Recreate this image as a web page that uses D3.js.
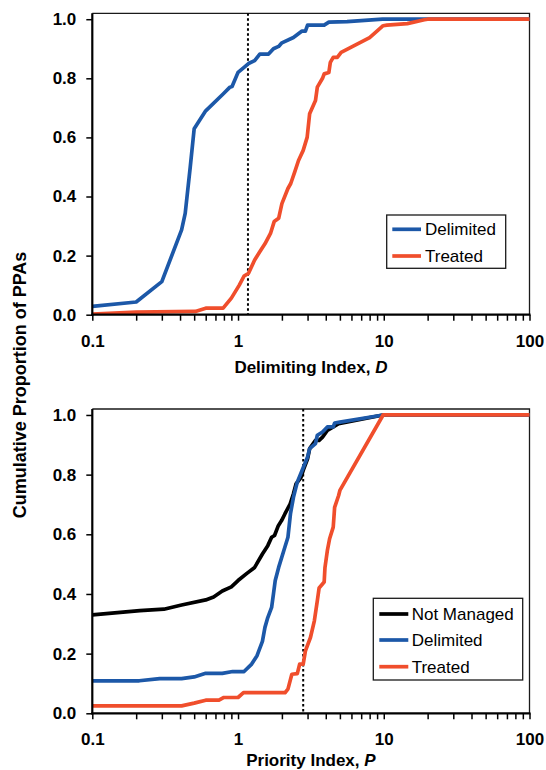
<!DOCTYPE html>
<html>
<head>
<meta charset="utf-8">
<script src="https://cdn.jsdelivr.net/npm/d3@7"></script>
<style>
  html, body { margin: 0; padding: 0; background: #fff; }
  svg { display: block; font-family: "Liberation Sans", Arial, sans-serif; }
</style>
</head>
<body>
<svg id="chart" width="546" height="770"></svg>
<script>
// ---- Data: cumulative proportion of PPAs versus index value ----
// Panel A: Delimiting index D
const delimitingDelimited = [
  [0.1, 0.028], [0.2, 0.043], [0.3, 0.112], [0.41, 0.287], [0.434, 0.343],
  [0.47, 0.5], [0.5, 0.629], [0.6, 0.69], [0.79, 0.747], [0.88, 0.77],
  [0.91, 0.772], [1.0, 0.82], [1.1, 0.837], [1.18, 0.85], [1.3, 0.86],
  [1.41, 0.882], [1.62, 0.882], [1.75, 0.9], [1.9, 0.908], [2.0, 0.92],
  [2.4, 0.938], [2.75, 0.96], [2.9, 0.96], [3.0, 0.98], [3.9, 0.98],
  [4.2, 0.99], [5.6, 0.992], [9.8, 1.0], [100, 1.0]
];
const delimitingTreated = [
  [0.1, 0.002], [0.2, 0.009], [0.51, 0.011], [0.6, 0.022], [0.79, 0.022],
  [0.9, 0.056], [1.02, 0.1], [1.1, 0.131], [1.18, 0.14], [1.3, 0.185],
  [1.41, 0.213], [1.53, 0.24], [1.67, 0.275], [1.77, 0.315], [1.9, 0.326],
  [2.0, 0.376], [2.2, 0.427], [2.3, 0.444], [2.45, 0.483], [2.6, 0.522],
  [2.8, 0.556], [2.98, 0.6], [3.1, 0.68], [3.4, 0.725], [3.5, 0.77],
  [3.8, 0.8], [3.9, 0.815], [4.2, 0.82], [4.3, 0.854], [4.5, 0.871],
  [4.8, 0.871], [5.1, 0.888], [8.0, 0.938], [9.9, 0.978], [10.5, 0.98],
  [14.5, 0.985], [19, 0.998], [20, 1.0], [100, 1.0]
];
const delimitingThreshold = 1.17;

// Panel B: Priority index P
const priorityNotManaged = [
  [0.1, 0.33], [0.212, 0.344], [0.31, 0.349], [0.41, 0.363], [0.6, 0.38],
  [0.68, 0.39], [0.78, 0.41], [0.9, 0.424], [1.0, 0.445], [1.15, 0.469],
  [1.3, 0.489], [1.47, 0.534], [1.6, 0.562], [1.7, 0.59], [1.78, 0.596],
  [1.89, 0.629], [1.99, 0.646], [2.1, 0.669], [2.28, 0.702], [2.4, 0.736],
  [2.5, 0.769], [2.7, 0.79], [2.8, 0.814], [3.0, 0.853], [3.1, 0.887],
  [3.4, 0.915], [3.6, 0.915], [3.8, 0.926], [4.1, 0.948], [4.5, 0.96],
  [4.9, 0.971], [9.9, 1.0], [100, 1.0]
];
const priorityDelimited = [
  [0.1, 0.109], [0.21, 0.109], [0.29, 0.116], [0.41, 0.116], [0.5, 0.122],
  [0.6, 0.134], [0.78, 0.134], [0.92, 0.14], [1.1, 0.14], [1.24, 0.165],
  [1.35, 0.193], [1.47, 0.241], [1.53, 0.288], [1.6, 0.321], [1.7, 0.355],
  [1.75, 0.4], [1.8, 0.445], [1.9, 0.489], [2.06, 0.545], [2.2, 0.59],
  [2.29, 0.669], [2.4, 0.724], [2.55, 0.775], [2.75, 0.814], [3.0, 0.859],
  [3.1, 0.887], [3.4, 0.904], [3.5, 0.932], [3.8, 0.943], [4.1, 0.96],
  [4.5, 0.96], [4.6, 0.973], [5.0, 0.976], [9.9, 1.0], [100, 1.0]
];
const priorityTreated = [
  [0.1, 0.025], [0.41, 0.025], [0.5, 0.034], [0.6, 0.044], [0.74, 0.044],
  [0.8, 0.053], [1.0, 0.053], [1.09, 0.069], [2.1, 0.069], [2.2, 0.081],
  [2.34, 0.131], [2.55, 0.133], [2.65, 0.165], [2.8, 0.165], [2.9, 0.209],
  [3.14, 0.254], [3.34, 0.31], [3.5, 0.377], [3.6, 0.42], [3.9, 0.44],
  [3.95, 0.489], [4.1, 0.545], [4.25, 0.585], [4.5, 0.624], [4.6, 0.69],
  [4.9, 0.73], [5.0, 0.747], [9.9, 1.0], [100, 1.0]
];
const priorityThreshold = 2.8;

// Axis ticks
const xMajorTicks = [0.1, 1, 10, 100];
const xMinorTicks = [0.2, 0.3, 0.4, 0.5, 0.6, 0.7, 0.8, 0.9,
                     2, 3, 4, 5, 6, 7, 8, 9,
                     20, 30, 40, 50, 60, 70, 80, 90];
const yTicks = [0, 0.2, 0.4, 0.6, 0.8, 1.0];

// Series styles
const COLORS = { notManaged: "#000000", delimited: "#1c58a8", treated: "#f04e2c" };

const svg = d3.select("#chart");

const left = 92.3, right = 529.5;

function drawPanel(cfg) {
  const x = d3.scaleLog().domain([0.1, 100]).range([left, right]);
  const y = d3.scaleLinear().domain([0, 1.02]).range([cfg.bottom, cfg.top]);
  const g = svg.append("g");

  const clipId = "clip-" + cfg.id;
  g.append("clipPath").attr("id", clipId)
    .append("rect")
    .attr("x", left).attr("y", cfg.top - 3)
    .attr("width", right - left + 3).attr("height", cfg.bottom - cfg.top + 3);

  // frame (top & right)
  g.append("path")
    .attr("d", `M${left},${cfg.top}H${right}V${cfg.bottom}`)
    .attr("fill", "none").attr("stroke", "#1a1a1a").attr("stroke-width", 1.3);

  // threshold line
  g.append("line")
    .attr("x1", x(cfg.threshold)).attr("x2", x(cfg.threshold))
    .attr("y1", cfg.top).attr("y2", cfg.bottom)
    .attr("stroke", "#000").attr("stroke-width", 2)
    .attr("stroke-dasharray", "2.5,2.5");

  // series
  const line = d3.line().x(d => x(d[0])).y(d => y(d[1]));
  const lines = g.append("g").attr("clip-path", `url(#${clipId})`);
  cfg.series.forEach(s => {
    lines.append("path")
      .datum(s.data)
      .attr("d", line)
      .attr("fill", "none")
      .attr("stroke", s.color)
      .attr("stroke-width", 3.7)
      .attr("stroke-linejoin", "round")
      .attr("stroke-linecap", "butt");
  });

  // x axis
  const xAxis = d3.axisBottom(x)
    .tickValues(xMajorTicks.concat(xMinorTicks))
    .tickSize(6).tickPadding(14)
    .tickFormat(d => xMajorTicks.includes(d) ? d3.format("~g")(d) : "");
  const xg = g.append("g").attr("transform", `translate(0,${cfg.bottom})`).call(xAxis);
  xg.select(".domain").attr("stroke", "#000").attr("stroke-width", 2.2)
    .attr("d", `M${left - 1},0H${right + 1}`);
  xg.selectAll(".tick line").attr("stroke", "#000").attr("stroke-width", 1.5);
  xg.selectAll(".tick text")
    .attr("font-size", 17).attr("font-weight", "bold").attr("fill", "#000")
    .attr("font-family", "Liberation Sans, Arial, sans-serif");

  // y axis
  const yAxis = d3.axisLeft(y).tickValues(yTicks).tickSize(6).tickPadding(10)
    .tickFormat(d3.format(".1f"));
  const yg = g.append("g").attr("transform", `translate(${left},0)`).call(yAxis);
  yg.select(".domain").attr("stroke", "#000").attr("stroke-width", 2.2)
    .attr("d", `M0,${cfg.top}V${cfg.bottom + 1}`);
  yg.selectAll(".tick line").attr("stroke", "#000").attr("stroke-width", 1.5);
  yg.selectAll(".tick text")
    .attr("font-size", 17).attr("font-weight", "bold").attr("fill", "#000")
    .attr("font-family", "Liberation Sans, Arial, sans-serif");

  // x title
  const t = g.append("text")
    .attr("x", (left + right) / 2).attr("y", cfg.titleY)
    .attr("text-anchor", "middle")
    .attr("font-size", 17).attr("font-weight", "bold").attr("fill", "#000");
  t.append("tspan").text(cfg.title);
  t.append("tspan").attr("font-style", "italic").text(cfg.titleVar);

  // legend
  const L = cfg.legend;
  const lg = g.append("g");
  lg.append("rect")
    .attr("x", L.x0).attr("y", L.y0)
    .attr("width", L.x1 - L.x0).attr("height", L.y1 - L.y0)
    .attr("fill", "#fff").attr("stroke", "#1a1a1a").attr("stroke-width", 1.3);
  cfg.series.forEach((s, i) => {
    const yy = L.rows[i];
    lg.append("line")
      .attr("x1", L.lx0).attr("x2", L.lx1).attr("y1", yy).attr("y2", yy)
      .attr("stroke", s.color).attr("stroke-width", 3.7);
    lg.append("text")
      .attr("x", L.tx).attr("y", yy + 6)
      .attr("font-size", 17).attr("fill", "#000")
      .text(s.name);
  });
}

drawPanel({
  id: "d", top: 13.3, bottom: 314.7,
  threshold: delimitingThreshold,
  title: "Delimiting Index, ", titleVar: "D", titleY: 373,
  series: [
    { name: "Delimited", data: delimitingDelimited, color: COLORS.delimited },
    { name: "Treated", data: delimitingTreated, color: COLORS.treated }
  ],
  legend: { x0: 386.7, x1: 505.7, y0: 215, y1: 268.3, lx0: 392.3, lx1: 421, tx: 425,
            rows: [229.3, 256] }
});

drawPanel({
  id: "p", top: 409, bottom: 713.3,
  threshold: priorityThreshold,
  title: "Priority Index, ", titleVar: "P", titleY: 765.5,
  series: [
    { name: "Not Managed", data: priorityNotManaged, color: COLORS.notManaged },
    { name: "Delimited", data: priorityDelimited, color: COLORS.delimited },
    { name: "Treated", data: priorityTreated, color: COLORS.treated }
  ],
  legend: { x0: 373.3, x1: 522.7, y0: 598.3, y1: 680, lx0: 379.3, lx1: 408.3, tx: 411.7,
            rows: [614, 640, 666.7] }
});

// shared y title
svg.append("text")
  .attr("transform", "translate(25.5,385) rotate(-90)")
  .attr("text-anchor", "middle")
  .attr("font-size", 18).attr("font-weight", "bold").attr("fill", "#000")
  .text("Cumulative Proportion of PPAs");
</script>
</body>
</html>
